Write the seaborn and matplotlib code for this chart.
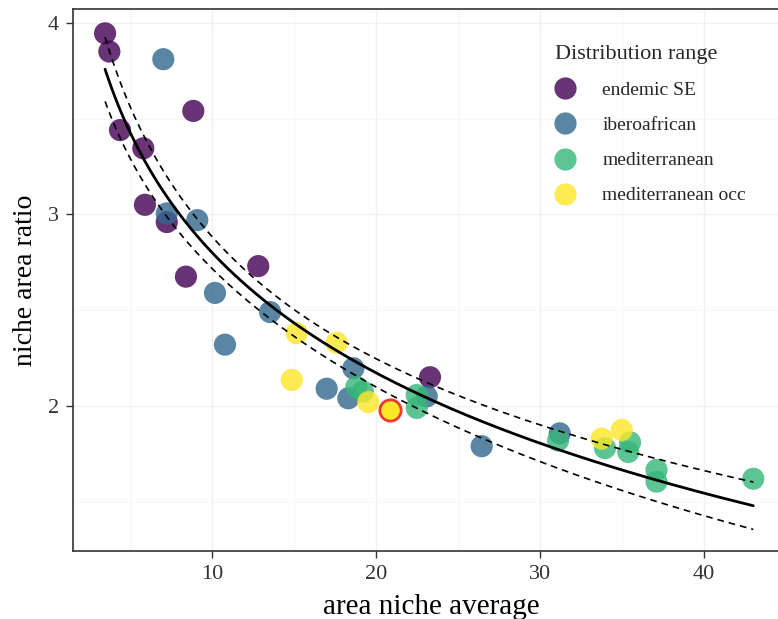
import numpy as np
import pandas as pd
import matplotlib
matplotlib.use("Agg")
import matplotlib.pyplot as plt
import seaborn as sns

# ---- data ----
endemic_x = [3.48, 3.74, 4.39, 5.81, 5.91, 7.24, 8.86, 8.41, 12.82, 23.29]
endemic_y = [3.945, 3.85, 3.44, 3.345, 3.05, 2.96, 3.54, 2.675, 2.73, 2.15]

ibero_x = [7.03, 7.24, 9.10, 10.18, 10.79, 13.54, 16.99, 18.62, 18.31, 23.09, 26.44, 31.2]
ibero_y = [3.81, 3.005, 2.97, 2.59, 2.32, 2.49, 2.09, 2.197, 2.04, 2.05, 1.79, 1.857]

med_x = [18.8, 19.2, 22.48, 22.48, 31.1, 33.96, 35.49, 35.38, 37.1, 37.1, 43.0]
med_y = [2.10, 2.075, 2.057, 1.99, 1.82, 1.78, 1.81, 1.76, 1.666, 1.605, 1.62]

medocc_x = [15.16, 17.6, 14.86, 19.53, 20.85, 33.76, 34.98]
medocc_y = [2.38, 2.33, 2.136, 2.02, 1.98, 1.83, 1.875]

categories = ["endemic SE", "iberoafrican", "mediterranean", "mediterranean occ"]
highlight_x = [20.85]
highlight_y = [1.98]

x_ticks = [10, 20, 30, 40]
y_ticks = [2, 3, 4]

colors = ["#440154", "#31688E", "#35B779", "#FDE725"]

df = pd.DataFrame({
    "x": endemic_x + ibero_x + med_x + medocc_x,
    "y": endemic_y + ibero_y + med_y + medocc_y,
    "range": [categories[0]] * len(endemic_x) + [categories[1]] * len(ibero_x)
    + [categories[2]] * len(med_x) + [categories[3]] * len(medocc_x),
})

# ---- log fit with 95% confidence band ----
lx = np.log(df["x"].values)
X = np.column_stack([np.ones_like(lx), lx])
beta, *_ = np.linalg.lstsq(X, df["y"].values, rcond=None)
resid = df["y"].values - X @ beta
n = len(lx)
s2 = np.sum(resid ** 2) / (n - 2)
cov = s2 * np.linalg.inv(X.T @ X)
xg = np.linspace(df["x"].min(), df["x"].max(), 200)
Xg = np.column_stack([np.ones_like(xg), np.log(xg)])
fit = Xg @ beta
se = np.sqrt(np.einsum("ij,jk,ik->i", Xg, cov, Xg))
tval = 2.02
fit_df = pd.DataFrame({"x": xg, "fit": fit, "lo": fit - tval * se, "hi": fit + tval * se})

# ---- plot ----
sns.set_theme(style="white")
plt.rcParams["font.family"] = ["Liberation Serif", "DejaVu Serif"]

fig = plt.figure(figsize=(7.78, 6.19), dpi=100)
ax = fig.add_axes([73 / 778, 1 - 551 / 619, (790 - 73) / 778, (551 - 9) / 619])

ax.set_xticks([5, 15, 25, 35, 45], minor=True)
ax.set_yticks([1.5, 2.5, 3.5], minor=True)
ax.grid(True, which="major", color="#f0f0f0", lw=1.0)
ax.grid(True, which="minor", color="#f7f7f7", lw=0.8)
ax.set_axisbelow(True)

sns.scatterplot(data=df, x="x", y="y", hue="range", hue_order=categories,
                palette=colors, s=255, alpha=0.8, edgecolor="none", ax=ax, zorder=3,
                legend=False)
ax.scatter(highlight_x, highlight_y, s=235, facecolor="#FDE725", edgecolor="#e8262b",
           linewidth=2.0, alpha=0.9, zorder=4)

sns.lineplot(data=fit_df, x="x", y="fit", color="black", lw=2.0, ax=ax, zorder=5)
sns.lineplot(data=fit_df, x="x", y="lo", color="black", lw=1.2, ax=ax, zorder=5,
             linestyle=(0, (4, 3)))
sns.lineplot(data=fit_df, x="x", y="hi", color="black", lw=1.2, ax=ax, zorder=5,
             linestyle=(0, (4, 3)))

ax.set_xlim(1.524, 45.24)
ax.set_ylim(1.243, 4.072)
ax.set_xticks(x_ticks)
ax.set_xticklabels([str(v) for v in x_ticks])
ax.set_yticks(y_ticks)
ax.set_yticklabels([str(v) for v in y_ticks])
ax.tick_params(axis="both", which="major", labelsize=16, length=5, width=1,
               color="#333333", labelcolor="#333333", direction="out",
               bottom=True, left=True, pad=5)
ax.tick_params(which="minor", length=0)
for sp in ax.spines.values():
    sp.set_color("#333333")
    sp.set_linewidth(1.2)

ax.set_xlabel("area niche average", fontsize=21, color="black", labelpad=7)
ax.set_ylabel("niche area ratio", fontsize=20, color="black", labelpad=7)

leg_handles = []
for c, col in zip(categories, colors):
    h = plt.Line2D([], [], marker="o", linestyle="", markersize=16,
                   markerfacecolor=col, markeredgecolor="none", alpha=0.8)
    leg_handles.append(h)
leg = ax.legend(leg_handles, categories, title="Distribution range", frameon=False,
                loc="upper left", bbox_to_anchor=(555 / 778, 1 - 45 / 619),
                bbox_transform=fig.transFigure, fontsize=14, title_fontsize=16,
                labelspacing=0.9, handlelength=1.03, handletextpad=1.4,
                borderpad=0, borderaxespad=0)
leg._legend_box.align = "left"

fig.savefig("out.png", dpi=100)
